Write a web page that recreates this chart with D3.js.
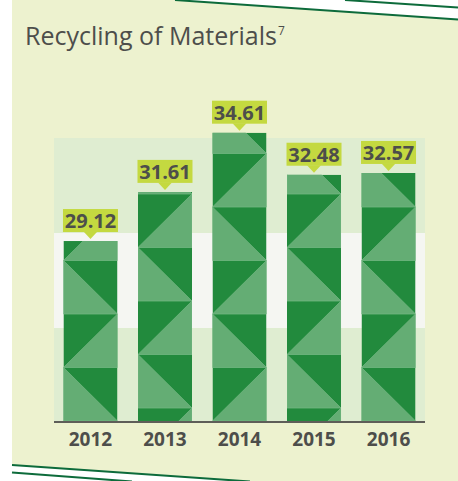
<!DOCTYPE html>
<html>
<head>
<meta charset="utf-8">
<script src="https://cdn.jsdelivr.net/npm/d3@7"></script>
<style>
  body { margin: 0; background: #ffffff; }
  svg { display: block; }
</style>
</head>
<body>
<div id="chart"></div>
<script>
const years = ['2012', '2013', '2014', '2015', '2016'];
const values = [29.12, 31.61, 34.61, 32.48, 32.57];
const valueLabels = ['29.12', '31.61', '34.61', '32.48', '32.57'];

const colors = {
    panel: '#EDF2CF',
    band: '#DFEDD1',
    bandMid: '#F5F6F2',
    dark: '#228A3D',
    light: '#64AD74',
    label: '#C4D940',
    text: '#4D4E4B',
    axis: '#5E5E58',
    stripe: '#0D6B3B'
};

// triangle pattern offsets, per bar
const tileShift = [0, 13, 0, 13, 0];
const tilePhase = [0, 0, 1, 0, 0];
const tile = 53.5;

const width = 458, height = 481;
const svg = d3.select('#chart').append('svg')
    .attr('width', width)
    .attr('height', height);

// panel + decorations
svg.append('rect')
    .attr('x', 12).attr('y', 0)
    .attr('width', width - 12).attr('height', height)
    .style('fill', colors.panel);

svg.append('path')
    .attr('d', 'M175,0 L458,0 L458,19.5 Z')
    .style('fill', '#fff');
svg.append('path')
    .attr('d', 'M12,465 L250,481.5 L12,481.5 Z')
    .style('fill', '#fff');

const stripes = [
    [175, 0, 458, 19.5],
    [345, 0, 458, 7.5],
    [12, 465, 250, 481.5],
    [12, 472.5, 132, 481.5]
];
svg.selectAll('.stripe').data(stripes).enter()
    .append('line')
    .attr('x1', d => d[0]).attr('y1', d => d[1])
    .attr('x2', d => d[2]).attr('y2', d => d[3])
    .style('stroke', colors.stripe)
    .style('stroke-width', 2);

// title
const title = svg.append('text')
    .attr('x', 25).attr('y', 45)
    .style('font-family', 'Open Sans')
    .style('font-size', '25px')
    .style('fill', colors.text)
    .text('Recycling of Materials');
title.append('tspan')
    .attr('dx', 1)
    .attr('dy', -10)
    .style('font-size', '12px')
    .text('7');

// scales
const x = d3.scaleBand()
    .domain(years)
    .range([54, 425])
    .paddingInner(0.275)
    .paddingOuter(0.127);

const y = d3.scaleLinear()
    .domain([20, 35])
    .range([421, 125]);

// background bands
const bands = [
    [138, 233, colors.band],
    [233, 328, colors.bandMid],
    [328, 421, colors.band]
];
svg.selectAll('.band').data(bands).enter()
    .append('rect')
    .attr('x', 54).attr('y', d => d[0])
    .attr('width', 371).attr('height', d => d[1] - d[0])
    .style('fill', d => d[2]);

// bars
const defs = svg.append('defs');
const bars = svg.append('g');

years.forEach((yr, i) => {
    const x0 = x(yr), x1 = x0 + x.bandwidth();
    const top = y(values[i]), base = y(20);

    defs.append('clipPath')
        .attr('id', 'clip' + i)
        .append('rect')
        .attr('x', x0).attr('y', top)
        .attr('width', x.bandwidth()).attr('height', base - top);

    const g = bars.append('g').attr('clip-path', `url(#clip${i})`);
    g.append('rect')
        .attr('x', x0).attr('y', top)
        .attr('width', x.bandwidth()).attr('height', base - top)
        .style('fill', colors.dark);

    const b = base - tileShift[i];
    for (let k = -1; (b - k * tile) > top; k++) {
        const t0 = b - (k + 1) * tile, t1 = b - k * tile;
        const pts = (k + tilePhase[i]) % 2 === 0
            ? [[x0, t0], [x0, t1], [x1, t1]]
            : [[x1, t0], [x1, t1], [x0, t1]];
        g.append('polygon')
            .attr('points', pts.map(p => p.join(',')).join(' '))
            .style('fill', colors.light)
            .style('stroke', '#72B681')
            .style('stroke-width', 0.8);
    }
});

// value labels
const labels = svg.selectAll('.value').data(values).enter()
    .append('g')
    .attr('transform', (d, i) => `translate(${x(years[i]) + x.bandwidth() / 2}, ${y(d)})`);

labels.append('rect')
    .attr('x', -27.5).attr('y', -32)
    .attr('width', 55).attr('height', 23)
    .style('fill', colors.label);
labels.append('path')
    .attr('d', 'M-7,-9.5 L7,-9.5 L0,-2 Z')
    .style('fill', colors.label);
labels.append('text')
    .attr('y', -13)
    .style('text-anchor', 'middle')
    .style('font-family', 'Open Sans')
    .style('font-weight', 'bold')
    .style('font-size', '20px')
    .style('fill', colors.text)
    .text((d, i) => valueLabels[i]);

// axis
const axis = svg.append('g')
    .attr('transform', `translate(0, ${y(20)})`)
    .call(d3.axisBottom(x).tickSize(0).tickPadding(12));
axis.select('.domain')
    .attr('d', 'M54,1H425')
    .style('stroke', colors.axis)
    .style('stroke-width', 2);
axis.selectAll('text')
    .style('font-family', 'Open Sans')
    .style('font-weight', 'bold')
    .style('font-size', '19px')
    .style('fill', colors.text);
</script>
</body>
</html>
